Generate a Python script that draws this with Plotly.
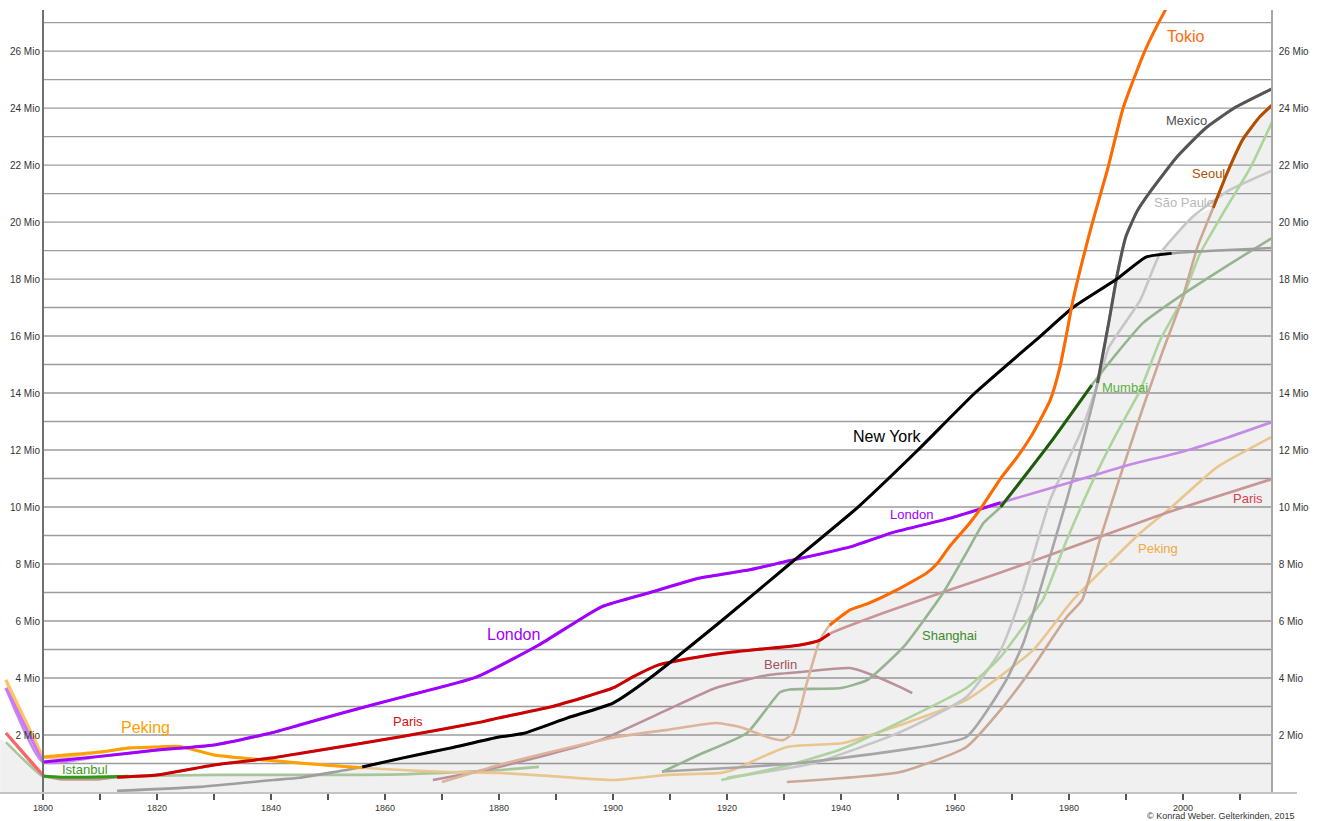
import plotly.graph_objects as go

# ---------------- data (millions of inhabitants) ----------------
london_years = [1793.5, 1800, 1810, 1820, 1830, 1840, 1845, 1853, 1863, 1876, 1887, 1898, 1906.5, 1915, 1924, 1930, 1941.6, 1949, 1959, 1968, 1980, 1990, 2000, 2008, 2015.6]
london_values = [3.65, 1.05, 1.25, 1.47, 1.65, 2.07, 2.35, 2.8, 3.33, 4.03, 5.16, 6.5, 7.0, 7.5, 7.8, 8.07, 8.6, 9.1, 9.6, 10.15, 10.85, 11.45, 11.95, 12.45, 12.98]

peking_years = [1793.5, 1800, 1810, 1815, 1820, 1824, 1830, 1839, 1845, 1854, 1856, 1863, 1871, 1880, 1890, 1900, 1909.5, 1919, 1921, 1930.5, 1940.4, 1950.4, 1962, 1973.7, 1980.7, 1992.5, 1998, 2006, 2015.6]
peking_values = [3.93, 1.23, 1.4, 1.54, 1.58, 1.6, 1.3, 1.12, 1.02, 0.88, 0.85, 0.77, 0.7, 0.67, 0.55, 0.42, 0.6, 0.67, 0.77, 1.58, 1.72, 2.35, 3.23, 4.98, 6.74, 9.09, 10.0, 11.4, 12.46]

paris_years = [1793.5, 1800, 1803, 1810, 1813, 1820, 1830, 1840, 1845, 1863, 1877, 1880, 1889, 1900, 1903.5, 1908, 1915, 1921, 1932.8, 1936.3, 1938, 1947.4, 1959, 1968, 1985.4, 1997, 2015.6]
paris_values = [2.07, 0.6, 0.45, 0.45, 0.52, 0.6, 0.95, 1.19, 1.35, 1.95, 2.46, 2.6, 2.98, 3.65, 4.04, 4.46, 4.74, 4.91, 5.16, 5.33, 5.55, 6.28, 7.09, 7.7, 8.95, 9.79, 10.98]

istanbul_years = [1793.5, 1800, 1803, 1810, 1815, 1830, 1845, 1863, 1880, 1887]
istanbul_values = [1.75, 0.55, 0.52, 0.53, 0.55, 0.6, 0.6, 0.62, 0.77, 0.88]

newyork_years = [1813, 1827.5, 1840.4, 1845, 1856, 1863, 1871.4, 1880, 1884.2, 1892, 1900, 1906.5, 1919, 1931, 1943, 1953.5, 1963.5, 1975, 1980.7, 1988.4, 1993.5, 1998, 2006, 2015.6]
newyork_values = [0.04, 0.18, 0.42, 0.5, 0.88, 1.19, 1.54, 1.93, 2.05, 2.6, 3.12, 4.0, 6.0, 8.0, 10.0, 12.0, 14.0, 16.0, 17.0, 18.0, 18.77, 18.9, 19.0, 19.09]

tokio_years = [1870, 1880, 1890, 1900.7, 1909.5, 1918.2, 1922.8, 1927, 1929.8, 1931.6, 1934, 1936.3, 1938, 1941.6, 1944.6, 1949.8, 1955, 1956.8, 1959, 1962.6, 1964.7, 1968, 1970.9, 1973.7, 1976.7, 1978.4, 1979.6, 1980.7, 1984, 1986.7, 1989.5, 1993.3, 1996.8, 2000]
tokio_values = [0.35, 0.95, 1.45, 1.93, 2.18, 2.42, 2.25, 1.93, 1.82, 2.07, 3.82, 5.33, 5.85, 6.39, 6.6, 7.09, 7.68, 8.0, 8.6, 9.44, 10.0, 11.0, 11.75, 12.6, 13.75, 14.9, 16.1, 17.26, 19.9, 21.8, 24.0, 26.0, 27.4, 28.5]

berlin_years = [1868.4, 1880, 1897.7, 1909.5, 1918, 1927, 1932.8, 1941.6, 1945.6, 1950.4, 1952.5]
berlin_values = [0.42, 0.88, 1.82, 2.88, 3.65, 4.1, 4.21, 4.35, 4.1, 3.68, 3.47]

shanghai_years = [1908.6, 1915, 1923.5, 1929.3, 1931, 1940, 1944.6, 1951, 1957.9, 1962, 1965, 1968, 1976.7, 1984, 1988, 1993, 1999.5, 2008, 2015.6]
shanghai_values = [0.7, 1.3, 2.07, 3.5, 3.6, 3.65, 3.93, 5.1, 6.98, 8.39, 9.44, 10.0, 12.25, 14.28, 15.3, 16.46, 17.4, 18.5, 19.44]

delhi_years = [1919, 1930, 1940, 1950.4, 1962, 1968, 1973.7, 1975.4, 1979.6, 1984, 1988.4, 1992.5, 1996, 1999.8, 2003, 2007, 2011.8, 2015.6]
delhi_values = [0.42, 0.9, 1.5, 2.46, 3.65, 4.74, 6.28, 6.74, 8.84, 10.84, 12.6, 14.1, 15.86, 17.26, 18.9, 20.3, 21.9, 23.5]

mexico_years = [1908.6, 1921, 1932.8, 1950.4, 1962, 1969, 1972, 1974.4, 1979.6, 1982.5, 1985, 1987, 1988.5, 1990, 1992, 1994, 1999, 2004, 2009, 2015.6]
mexico_values = [0.72, 0.85, 1.02, 1.47, 1.93, 3.93, 5.23, 6.74, 10.25, 12.35, 14.35, 16.5, 18.2, 19.5, 20.4, 21.0, 22.3, 23.3, 24.0, 24.67]

saopaulo_years = [1920, 1935, 1950.4, 1962, 1968, 1971.4, 1976.7, 1982, 1985.4, 1987, 1992.5, 1996, 2001.8, 2008, 2015.6]
saopaulo_values = [0.5, 1.0, 2.1, 3.33, 4.98, 6.74, 10.25, 12.6, 14.56, 15.6, 17.26, 18.9, 20.2, 21.1, 21.8]

seoul_years = [1930.5, 1950.4, 1962, 1968, 1973.7, 1979.6, 1982.3, 1985.4, 1989.5, 1993, 1996.5, 1999.8, 2002.5, 2005.3, 2007.7, 2010.5, 2013.5, 2015.6]
seoul_values = [0.35, 0.7, 1.58, 2.88, 4.39, 6.14, 6.74, 8.84, 11.4, 13.5, 15.5, 17.26, 19.1, 20.5, 21.7, 22.9, 23.7, 24.1]

# area below the third-largest city
shade_years = [1792.5, 1793.5, 1800, 1812, 1830, 1845, 1852, 1856, 1863, 1871.4, 1880, 1884.2, 1892, 1900, 1906.5, 1909, 1915, 1921, 1932.8, 1936.3, 1938, 1941.6, 1944.6, 1949.8, 1955, 1956.8, 1959, 1962.6, 1964.7, 1968, 1976.7, 1984, 1985, 1987, 1988.2, 1993.5, 1996, 2001.8, 2005.3, 2007.7, 2010.5, 2013.5, 2015.6]
shade_values = [1.85, 1.75, 0.55, 0.55, 0.6, 0.62, 0.7, 0.88, 1.19, 1.54, 1.93, 2.05, 2.6, 3.12, 4.0, 4.45, 4.74, 4.91, 5.16, 5.33, 5.6, 6.39, 6.6, 7.09, 7.68, 8.0, 8.6, 9.44, 9.95, 10.1, 12.25, 14.28, 14.35, 16.5, 17.95, 18.77, 18.88, 20.2, 20.5, 21.7, 22.9, 23.7, 24.1]

y_tick_values = [2, 4, 6, 8, 10, 12, 14, 16, 18, 20, 22, 24, 26]
y_tick_labels = [f"{v} Mio" for v in y_tick_values]
x_tick_values = list(range(1800, 2011, 10))
x_tick_labels = [str(v) if v % 20 == 0 else "" for v in x_tick_values]

# ---------------- styling ----------------
FONT = "Liberation Sans, Arial, sans-serif"
X0, X1 = 1792.46, 2020.0
AX_L, AX_R = 1800.0, 2015.6
Y1 = 27.44

cities = [
    # name, years, values, faded colour, highlighted segments (start, end, colour)
    ("Istanbul", istanbul_years, istanbul_values, "#a8c59c", [(1800, 1815, "#2e9a1a")]),
    ("Berlin", berlin_years, berlin_values, "#ba919a", []),
    ("Peking", peking_years, peking_values, "#e8c68e", [(1793.5, 1800, "#ffc45a"), (1800, 1856, "#ffa000")]),
    ("Paris", paris_years, paris_values, "#c99595", [(1793.5, 1800, "#ff6464"), (1813, 1938, "#cc0000")]),
    ("SaoPaulo", saopaulo_years, saopaulo_values, "#c6c6c6", []),
    ("Delhi", delhi_years, delhi_values, "#acd49c", []),
    ("Seoul", seoul_years, seoul_values, "#caa893", [(2005.3, 2015.6, "#b34d00")]),
    ("Mexico", mexico_years, mexico_values, "#a6a6a6", [(1985, 2015.6, "#555555")]),
    ("Shanghai", shanghai_years, shanghai_values, "#95b590", [(1968, 1984, "#1e5c0c")]),
    ("London", london_years, london_values, "#c58ae6", [(1793.5, 1800, "#c878ff"), (1800, 1968, "#a000ff")]),
    ("NewYork", newyork_years, newyork_values, "#9e9e9e", [(1856, 1998, "#000000")]),
    ("Tokio", tokio_years, tokio_values, "#dcb49a", [(1938, 2000, "#ff6a00")]),
]

fig = go.Figure()

fig.add_trace(go.Scatter(x=shade_years, y=shade_values, mode="lines", fill="tozeroy",
                         fillcolor="rgba(110,110,110,0.10)", line=dict(width=0),
                         hoverinfo="skip", showlegend=False))

for name, xs, ys, faded, segs in cities:
    fig.add_trace(go.Scatter(x=xs, y=ys, mode="lines", name=name, showlegend=False,
                             line=dict(color=faded, width=2.6, shape="spline", smoothing=0.5)))

for name, xs, ys, faded, segs in cities:
    for a, b, col in segs:
        sx = [x for x in xs if a <= x <= b]
        sy = [y for x, y in zip(xs, ys) if a <= x <= b]
        fig.add_trace(go.Scatter(x=sx, y=sy, mode="lines", name=name, showlegend=False,
                                 line=dict(color=col, width=3, shape="spline", smoothing=0.5)))

# dummy for the right axis
fig.add_trace(go.Scatter(x=[AX_R], y=[0], yaxis="y2", mode="markers", marker=dict(opacity=0),
                         hoverinfo="skip", showlegend=False))

for m in range(1, 28):
    fig.add_shape(type="line", x0=AX_L, x1=AX_R, y0=m, y1=m, xref="x", yref="y",
                  line=dict(color="#9c9c9c", width=1.3), layer="below")

labels = [
    ("Tokio", 2000.5, 26.5, 16, "#ff6a10"),
    ("Mexico", 2000.7, 23.58, 13, "#505050"),
    ("Seoul", 2004.4, 21.7, 13, "#b05000"),
    ("São Paulo", 2000.2, 20.7, 13, "#b8b8b8"),
    ("New York", 1948.1, 12.49, 16, "#000000"),
    ("London", 1882.5, 5.54, 16, "#a000ff"),
    ("London", 1952.3, 9.72, 13, "#a000ff"),
    ("Peking", 1817.9, 2.25, 16, "#ffa000"),
    ("Paris", 1864, 2.46, 13, "#d01010"),
    ("Istanbul", 1807.4, 0.8, 13, "#3a9a1a"),
    ("Berlin", 1929.3, 4.46, 13, "#a05060"),
    ("Shanghai", 1959, 5.5, 13, "#3a8a2a"),
    ("Mumbai", 1989.8, 14.2, 13, "#5ab03a"),
    ("Paris", 2011.4, 10.3, 13, "#d04050"),
    ("Peking", 1995.6, 8.56, 13, "#f0a840"),
]
for t, x, y, s, c in labels:
    fig.add_annotation(x=x, y=y, text=t, showarrow=False, xref="x", yref="y",
                       font=dict(family=FONT, size=s, color=c))

fig.add_annotation(x=1.0, y=-0.031, xref="paper", yref="paper", xanchor="right", yanchor="middle",
                   text="© Konrad Weber. Gelterkinden, 2015", showarrow=False,
                   font=dict(family=FONT, size=9, color="#333333"))

fig.update_layout(
    width=1324, height=821,
    margin=dict(l=0, r=27, t=10, b=29),
    plot_bgcolor="white", paper_bgcolor="white",
    hovermode=False,
    font=dict(family=FONT, color="#333333"),
    xaxis=dict(range=[X0, X1], showgrid=False, zeroline=False,
               showline=True, linecolor="#c4c4c4", linewidth=1.5,
               tickmode="array", tickvals=x_tick_values, ticktext=x_tick_labels,
               ticks="outside", ticklen=6, tickwidth=1.5, tickcolor="#555555",
               tickfont=dict(size=9, color="#333333")),
    yaxis=dict(range=[0, Y1], showgrid=False, zeroline=False, anchor="free", position=(AX_L - X0) / (X1 - X0),
               showline=True, linecolor="#707070", linewidth=2,
               tickmode="array", tickvals=y_tick_values, ticktext=y_tick_labels, ticks="",
               tickfont=dict(size=10, color="#333333")),
    yaxis2=dict(range=[0, Y1], overlaying="y", side="right", anchor="free", position=(AX_R - X0) / (X1 - X0),
                showgrid=False, zeroline=False, showline=True, linecolor="#a8a8a8", linewidth=1.5,
                tickmode="array", tickvals=y_tick_values, ticktext=y_tick_labels, ticks="",
                ticklabelstandoff=4,
                tickfont=dict(size=10, color="#333333")),
)

fig.write_html("out.html", config={"displayModeBar": False})

# remove the default page margin so the chart sits at the window's top-left corner
with open("out.html", "r", encoding="utf-8") as f:
    html = f.read()
html = html.replace("<body>", '<body style="margin:0;overflow:hidden;">', 1)
with open("out.html", "w", encoding="utf-8") as f:
    f.write(html)
